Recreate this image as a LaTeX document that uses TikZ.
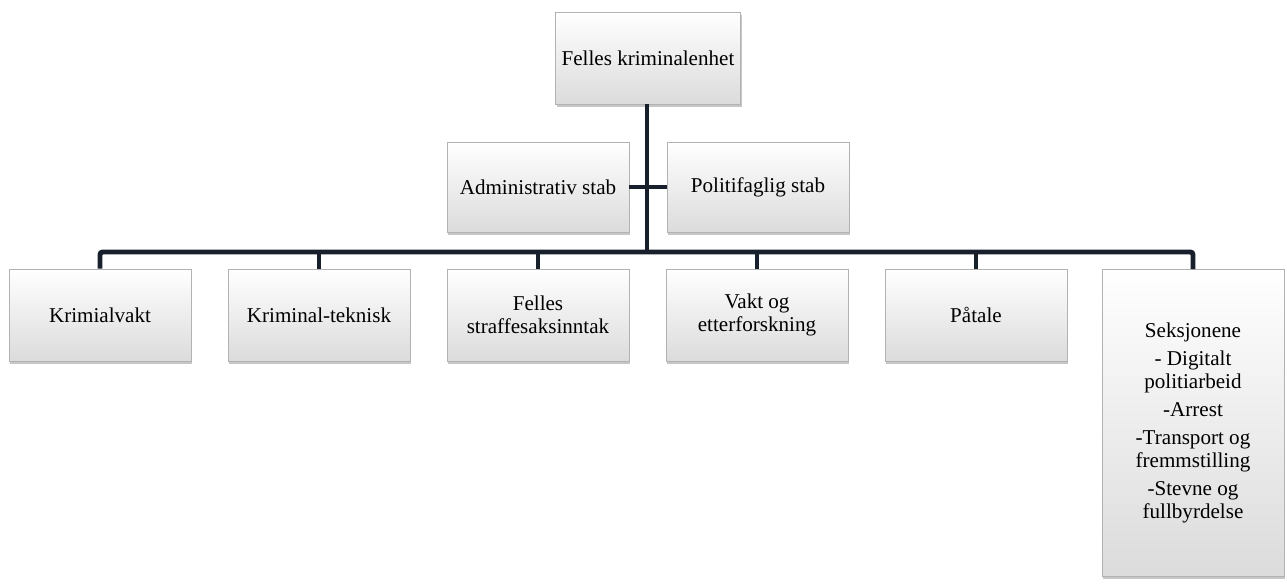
\documentclass[tikz,border=0pt]{standalone}
\usepackage{fontspec}
\setmainfont{Liberation Serif}
\usepackage{tikz}
\usetikzlibrary{calc,positioning,shadows}
\definecolor{linknavy}{HTML}{17202B}
\tikzset{%
	unit/.style   = {draw=gray!60, rectangle, top color=white, bottom color=gray!28, minimum width=3.64cm, minimum height=1.84cm, align=center, font=\fontsize{12}{13}\selectfont, drop shadow={opacity=0.45, shadow xshift=0.8pt, shadow yshift=-1.6pt}}, % Box
	tall/.style   = {minimum height=6.14cm}, % Sections box
	link/.style   = {draw=linknavy, line width=2.8pt, rounded corners=1.5pt}, % Line
	waypoint/.style = {coordinate}, % Bus point
}
\begin{document}
\begin{tikzpicture}[node distance = 4.38cm]
		\useasboundingbox (0,0) rectangle (25.74,-11.72);
		\node[unit] (top) at (12.96,-1.16) {Felles kriminalenhet};
		\node[unit, minimum height=1.8cm] (adm) at (10.76,-3.74) {Administrativ stab};
		\node[unit, minimum height=1.8cm] (pol) at (15.16,-3.74) {Politifaglig stab};
		\node[unit] (krim) at (2.0,-6.3) {Krimialvakt};
		\node[unit, right of=krim] (tek) {Kriminal-teknisk};
		\node[unit, right of=tek] (felles) {Felles\\straffesaksinntak};
		\node[unit, right of=felles] (vakt) {Vakt og\\etterforskning};
		\node[unit, right of=vakt] (pat) {Påtale};
		\node[unit, tall, anchor=north] (seks) at (23.86,-5.38) {Seksjonene\\[3pt]- Digitalt\\politiarbeid\\[3pt]-Arrest\\[3pt]-Transport og\\fremmstilling\\[3pt]-Stevne og\\fullbyrdelse};
		\node[waypoint] (bus) at (12.94,-5.04) {};
		\draw[link] (top.south -| bus) -- (bus);
		\draw[link] (adm.east) -- (pol.west);
		\draw[link] (krim.north) |- (bus) -| (seks.north);
		\draw[link] (tek.north) -- (tek.north |- bus);
		\draw[link] (felles.north) -- (felles.north |- bus);
		\draw[link] (vakt.north) -- (vakt.north |- bus);
		\draw[link] (pat.north) -- (pat.north |- bus);
		\end{tikzpicture}
\end{document}
